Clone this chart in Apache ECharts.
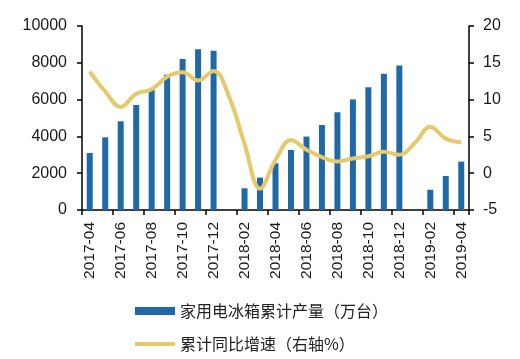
<!DOCTYPE html>
<html>
<head>
<meta charset="utf-8">
<script src="https://cdn.jsdelivr.net/npm/echarts@6/dist/echarts.min.js"></script>
<style>html,body{margin:0;padding:0;background:#fff}#c{width:520px;height:359px}</style>
</head>
<body>
<div id="c"></div>
<script>
var categories = ['2017-04','2017-05','2017-06','2017-07','2017-08','2017-09','2017-10','2017-11','2017-12',
  '2018-01','2018-02','2018-03','2018-04','2018-05','2018-06','2018-07','2018-08','2018-09','2018-10','2018-11','2018-12',
  '2019-01','2019-02','2019-03','2019-04'];
var production = [3100,3950,4820,5710,6560,7350,8210,8730,8660,
  null,1180,1760,2540,3260,3990,4620,5310,6010,6670,7410,7860,
  null,1100,1850,2630];
var growth = [13.8,11.1,9.0,10.8,11.4,13.1,13.7,12.6,13.9,
  10.4,4.0,-2.1,1.8,4.5,3.2,2.2,1.6,2.0,2.3,2.9,2.5,
  4.1,6.3,4.7,4.2];
var leftTicks = {min:0,max:10000,interval:2000};
var rightTicks = {min:-5,max:20,interval:5};
var seriesNames = ['家用电冰箱累计产量（万台）','累计同比增速（右轴%）'];

var chart = echarts.init(document.getElementById('c'), null, {renderer:'canvas'});
var txt = '#1a1a1a';
chart.setOption({
  animation:false,
  grid:{left:82,right:51,top:26,bottom:149,containLabel:false},
  legend:{
    orient:'vertical', left:133, top:303, padding:0, itemGap:17, itemWidth:40, itemHeight:8, itemTextGap:6,
    textStyle:{fontFamily:'Noto Sans CJK SC',fontSize:16,color:'#222'},
    data:[{name:seriesNames[0],icon:'rect'},
          {name:seriesNames[1],itemStyle:{opacity:0},lineStyle:{width:4,color:'#e6c96a'}}]
  },
  xAxis:{
    type:'category', data:categories, boundaryGap:true,
    axisLine:{lineStyle:{color:'#000',width:1.5}},
    axisTick:{show:true,interval:1,length:5,lineStyle:{color:'#000',width:1.5}},
    axisLabel:{interval:1,rotate:90,margin:12,fontFamily:'Liberation Sans',fontSize:15.5,color:txt}
  },
  yAxis:[
    {type:'value',min:leftTicks.min,max:leftTicks.max,interval:leftTicks.interval,
     splitLine:{show:false},
     axisLine:{show:true,lineStyle:{color:'#000',width:1.5}},
     axisTick:{show:true,length:5,lineStyle:{color:'#000',width:1.5}},
     axisLabel:{margin:15,fontFamily:'Liberation Sans',fontSize:16,color:txt,formatter:function(v){return String(v);}}},
    {type:'value',min:rightTicks.min,max:rightTicks.max,interval:rightTicks.interval,position:'right',
     splitLine:{show:false},
     axisLine:{show:true,lineStyle:{color:'#000',width:1.5}},
     axisTick:{show:true,length:5,lineStyle:{color:'#000',width:1.5}},
     axisLabel:{margin:14,fontFamily:'Liberation Sans',fontSize:16,color:txt}}
  ],
  series:[
    {name:seriesNames[0],type:'bar',data:production,barWidth:6,yAxisIndex:0,
     itemStyle:{color:'#1f69a6'}},
    {name:seriesNames[1],type:'line',data:growth,yAxisIndex:1,smooth:0.4,symbol:'none',
     lineStyle:{color:'#e6c96a',width:4},itemStyle:{color:'#e6c96a'}}
  ]
});
</script>
</body>
</html>
